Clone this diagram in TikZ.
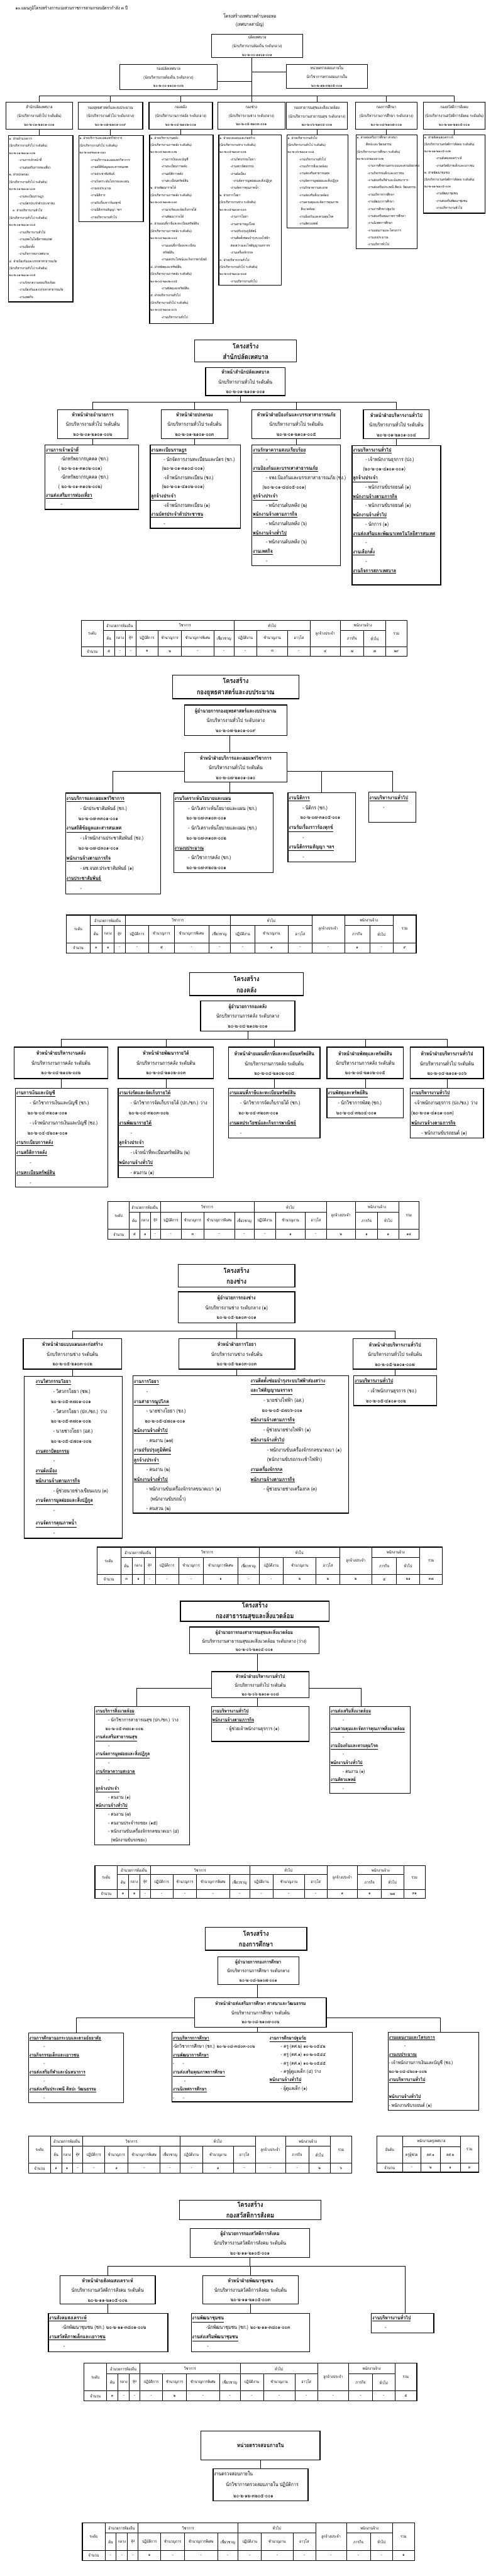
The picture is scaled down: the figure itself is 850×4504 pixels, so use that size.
\documentclass[tikz,border=0pt]{standalone}
\usepackage{fontspec}
\setmainfont{Loma}[Script=Thai,FakeStretch=0.85]
\newlength\myind
\newcommand\hd[1]{\underline{\textbf{#1}}}
\newcommand\ii{\hspace*{\myind}}
\newcommand\bx[7]{\pgfmathsetmacro\bw{#4-#2}\pgfmathsetmacro\bh{#5-#3}%
  \node[#6,minimum width=\bw pt,minimum height=\bh pt,anchor=north west] (#1) at (#2,#3) {#7};}
\newcommand\mylist[6]{\foreach \xitem [count=\xidx] in {#6} {\node[ltx,#2] (#1-\xidx) at ({#3},{#4+(\xidx-1)*#5}) {\xitem};}}
\tikzset{
 ltx/.style={anchor=west,inner sep=0pt},
 fs/.style={font=\fontsize{6}{7}\selectfont,text height=4pt,text depth=1.2pt},
 fd/.style={font=\fontsize{9}{10}\selectfont,text height=6pt,text depth=1.8pt},
 fe/.style={font=\fontsize{8.5}{10}\selectfont,text height=5.7pt,text depth=1.7pt},
 bbox/.style={draw,line width=1.4pt,inner sep=0pt},
 topbox/.style={bbox,align=center,font=\fontsize{7}{15}\selectfont},
 headbox/.style={bbox,align=center,font=\fontsize{9}{17}\selectfont},
 titlebox/.style={bbox,align=center,font=\fontsize{12}{19}\selectfont\bfseries},
 conn/.style={line width=0.7pt},
 tline/.style={line width=0.8pt},
 touter/.style={line width=1.3pt},
 tc/.style={inner sep=0pt,font=\fontsize{7}{8}\selectfont},
}
\newcommand\tbl[6]{%
 \pgfmathsetmacro\tbw{#4-#2}\pgfmathsetmacro\tbh{#5-#3}%
 \begin{scope}[shift={(#2,#3)},xscale=\tbw,yscale=\tbh]
  \draw[tline] (0,0.73) -- (1,0.73) (0.068,0.27) -- (0.702,0.27) (0.795,0.27) -- (0.934,0.27);
  \foreach \tcc in {0.068,0.168,0.469,0.702,0.795,0.934} {\draw[tline] (\tcc,0) -- (\tcc,1);}
  \foreach \tcc in {0.102,0.136,0.236,0.308,0.407,0.539,0.634,0.867} {\draw[tline] (\tcc,0.27) -- (\tcc,1);}
  \draw[touter] (0,0) rectangle (1,1);
  \node[tc] (#1-a) at (0.034,0.365) {ระดับ};
  \node[tc] (#1-b) at (0.118,0.135) {อำนวยการท้องถิ่น};
  \node[tc] (#1-c) at (0.3185,0.135) {วิชาการ};
  \node[tc] (#1-d) at (0.5855,0.135) {ทั่วไป};
  \node[tc] (#1-e) at (0.7485,0.365) {ลูกจ้างประจำ};
  \node[tc] (#1-f) at (0.8645,0.135) {พนักงานจ้าง};
  \node[tc] (#1-g) at (0.967,0.365) {รวม};
  \foreach \lab/\cx [count=\k] in {ต้น/0.085,กลาง/0.119,สูง/0.152,ปฏิบัติการ/0.202,ชำนาญการ/0.272,ชำนาญการพิเศษ/0.3575,เชี่ยวชาญ/0.438,ปฏิบัติงาน/0.504,ชำนาญงาน/0.5865,อาวุโส/0.668,ภารกิจ/0.831,ทั่วไป/0.9005} {\node[tc] (#1-h\k) at (\cx,0.5) {\lab};}
  \node[tc] (#1-r) at (0.034,0.865) {จำนวน};
  \foreach \tval [count=\k] in {#6} {\pgfmathsetmacro\tcx{{0.085,0.119,0.152,0.202,0.272,0.3575,0.438,0.504,0.5865,0.668,0.7485,0.831,0.9005,0.967}[\k-1]}\node[tc] (#1-v\k) at (\tcx,0.865) {\tval};}
 \end{scope}}
\begin{document}
\begin{tikzpicture}[x=1pt,y=-1pt]
\fill[white] (0,0) rectangle (850,4504);
\useasboundingbox (0,0) rectangle (850,4504);
%% ================= SECTION 1 =================
\node[ltx,font=\fontsize{8}{9}\selectfont] (ttl) at (27,15) {๑๐.แผนภูมิโครงสร้างการแบ่งส่วนราชการตามกรอบอัตรากำลัง ๓ ปี};
\node[font=\fontsize{8.5}{14}\selectfont,align=center,inner sep=0pt] (org) at (437,36) {โครงสร้างเทศบาลตำบลจอหอ\\(เทศบาลสามัญ)};
\bx{root}{369}{59}{529}{100}{topbox}{ปลัดเทศบาล\\(นักบริหารงานท้องถิ่น ระดับกลาง)\\๒๐-๒-๐๐-๑๑๐๑-๐๐๑}
\bx{dep}{209}{112}{379}{156}{topbox}{รองปลัดเทศบาล\\(นักบริหารงานท้องถิ่น ระดับกลาง)\\๒๐-๒-๐๐-๑๑๐๑-๐๐๒}
\bx{aud}{500}{112}{642}{154}{topbox}{หน่วยตรวจสอบภายใน\\นักวิชาการตรวจสอบภายใน\\๒๐-๒-๑๒-๓๒๐๕-๐๐๑}
\bx{c1}{10}{178}{126}{225}{topbox}{สำนักปลัดเทศบาล\\(นักบริหารงานทั่วไป ระดับต้น)\\๒๐-๒-๐๑-๒๑๐๑-๐๐๑}
\bx{c2}{136}{178}{249}{225}{topbox}{กองยุทธศาสตร์และงบประมาณ\\(นักบริหารงานทั่วไป ระดับกลาง)\\๒๐-๒-๐๗-๒๑๐๑-๐๐๙}
\bx{c3}{260}{178}{371}{225}{topbox}{กองคลัง\\(นักบริหารงานการคลัง ระดับกลาง)\\๒๐-๒-๐๔-๒๑๐๒-๐๐๑}
\bx{c4}{380}{178}{498}{225}{topbox}{กองช่าง\\(นักบริหารงานช่าง ระดับกลาง)\\๒๐-๒-๐๕-๒๑๐๓-๐๐๑}
\bx{c5}{500}{178}{607}{225}{topbox}{กองสาธารณสุขและสิ่งแวดล้อม\\(นักบริหารงานสาธารณสุข ระดับกลาง)\\๒๐-๒-๐๖-๒๑๐๔-๐๐๑}
\bx{c6}{621}{178}{729}{225}{topbox}{กองการศึกษา\\(นักบริหารงานการศึกษา ระดับกลาง)\\๒๐-๒-๐๘-๒๑๐๗-๐๐๑}
\bx{c7}{740}{178}{848}{225}{topbox}{กองสวัสดิการสังคม\\(นักบริหารงานสวัสดิการสังคม ระดับต้น)\\๒๐-๒-๑๑-๒๑๐๕-๐๐๑}
\bx{L1}{14}{236}{127}{527}{bbox}{}
\bx{L2}{137}{236}{250}{387}{bbox}{}
\bx{L3}{261}{235}{372}{565}{bbox}{}
\bx{L4}{382}{235}{491}{498}{bbox}{}
\bx{L5}{501}{235}{608}{398}{bbox}{}
\bx{L6}{622}{235}{729}{434}{bbox}{}
\bx{L7}{740}{235}{848}{372}{bbox}{}
\coordinate (tb) at (0,168);
\draw[conn] (c4.north |- root.south) -- (c4.north);
\draw[conn] (c1.north) -- (c1.north |- tb) -- (c7.north |- tb) -- (c7.north);
\foreach \n in {c2,c3,c5,c6} {\draw[conn] (\n.north) -- (\n.north |- tb);}
\draw[conn] ([yshift=-8pt]dep.east) -- ([yshift=-8pt]dep.east -| c4.north);
\draw[conn] ([yshift=8pt]aud.west) -- ([yshift=8pt]aud.west -| c4.north);
\foreach \n in {1,...,7} {\draw[conn] (c\n.south) -- (c\n.south |- L\n.north);}
\setlength\myind{17pt}
\mylist{L1t}{fs}{16}{243.3}{12.58}{๑. ฝ่ายอำนวยการ, (นักบริหารงานทั่วไป ระดับต้น), ๒๐-๒-๐๑-๒๑๐๑-๐๐๒, \ii-งานการเจ้าหน้าที่, \ii-งานส่งเสริมการท่องเที่ยว, ๒. ฝ่ายปกครอง, (นักบริหารงานทั่วไป ระดับต้น), ๒๐-๒-๐๑-๒๑๐๑-๐๐๓, \ii-งานทะเบียนราษฎร, \ii-งานบัตรประจำตัวประชาชน, \hspace*{6pt}๓. ฝ่ายบริหารงานทั่วไป, (นักบริหารงานทั่วไป ระดับต้น), ๒๐-๒-๐๑-๒๑๐๑-๐๐๔, \ii-งานบริหารงานทั่วไป, \ii-งานเทคโนโลยีสารสนเทศ, \ii-งานเลือกตั้ง, \ii-งานกิจการสภาเทศบาล, ๔. ฝ่ายป้องกันและบรรเทาสาธารณภัย, (นักบริหารงานทั่วไป ระดับต้น), ๒๐-๒-๐๑-๒๑๐๑-๐๐๕, \ii-งานรักษาความสงบเรียบร้อย, \ii-งานป้องกันและบรรเทาสาธารณภัย, \ii-งานเทศกิจ}
\setlength\myind{19pt}
\mylist{L2t}{fs}{139}{242.7}{12.5}{๑. ฝ่ายบริการและเผยแพร่วิชาการ, (นักบริหารงานทั่วไป ระดับต้น), ๒๐-๒-๐๗-๒๑๐๑-๐๑๐, \ii-งานบริการและเผยแพร่วิชาการ, \ii-งานสถิติข้อมูลและสารสนเทศ, \ii-งานประชาสัมพันธ์, \ii-งานวิเคราะห์นโยบายและแผน, \ii-งานงบประมาณ, \ii-งานนิติการ, \ii-งานรับเรื่องราวร้องทุกข์, \ii-งานนิติกรรมสัญญา ฯลฯ, \ii-งานบริหารงานทั่วไป}
\mylist{L3t}{fs}{263}{241.7}{12.54}{๑. ฝ่ายบริหารงานคลัง, (นักบริหารงานการคลัง ระดับต้น), ๒๐-๒-๐๔-๒๑๐๒-๐๐๒, \ii-งานการเงินและบัญชี, \ii-งานระเบียบการคลัง, \ii-งานสถิติการคลัง, \ii-งานทะเบียนทรัพย์สิน, ๒. ฝ่ายพัฒนารายได้, (นักบริหารงานการคลัง ระดับต้น), ๒๐-๒-๐๔-๒๑๐๒-๐๐๓, \ii-งานเร่งรัดและจัดเก็บรายได้, \ii-งานพัฒนารายได้, ๓. ฝ่ายแผนที่ภาษีและทะเบียนทรัพย์สิน, (นักบริหารงานการคลัง ระดับต้น), ๒๐-๒-๐๔-๒๑๐๒-๐๐๔, \ii-งานแผนที่ภาษีและทะเบียน, \ii\hspace*{3pt}ทรัพย์สิน, \ii-งานผลประโยชน์และกิจการพาณิชย์, ๔. ฝ่ายพัสดุและทรัพย์สิน, (นักบริหารงานการคลัง ระดับต้น), ๒๐-๒-๐๔-๒๑๐๒-๐๐๕, \ii-งานพัสดุและทรัพย์สิน, ๕. ฝ่ายบริหารงานทั่วไป, (นักบริหารงานทั่วไป ระดับต้น), ๒๐-๒-๐๔-๒๑๐๑-๐๐๖, \ii-งานบริหารงานทั่วไป}
\mylist{L4t}{fs}{384}{241.7}{12.55}{๑. ฝ่ายแบบแผนและก่อสร้าง, (นักบริหารงานช่าง ระดับต้น), ๒๐-๒-๐๕-๒๑๐๓-๐๐๒, \ii-งานวิศวกรรมโยธา, \ii-งานสถาปัตยกรรม, \ii-งานผังเมือง, \ii\hspace*{4pt}-งานจัดการมูลฝอยและสิ่งปฏิกูล, \ii-งานจัดการคุณภาพน้ำ, ๒. ฝ่ายการโยธา, (นักบริหารงานช่าง ระดับต้น), ๒๐-๒-๐๕-๒๑๐๓-๐๐๓, \ii-งานการโยธา, \ii-งานสาธารณูปโภค, \ii-งานปรับปรุงภูมิทัศน์, \ii-งานติดตั้งซ่อมบำรุงระบบไฟฟ้า, \ii ส่องสว่างและไฟสัญญาณจราจร, \ii-งานเครื่องจักรกล, ๓. ฝ่ายบริหารงานทั่วไป, (นักบริหารงานทั่วไป ระดับต้น), ๒๐-๒-๐๕-๒๑๐๑-๐๐๗, \ii-งานบริหารงานทั่วไป}
\setlength\myind{20pt}
\mylist{L5t}{fs}{503}{241.7}{12.5}{๑. ฝ่ายบริหารงานทั่วไป, (นักบริหารงานทั่วไป ระดับต้น), ๒๐-๒-๐๖-๒๑๐๑-๐๐๘, \ii-งานบริหารงานทั่วไป, \ii-งานบริการสิ่งแวดล้อม, \ii-งานส่งเสริมสาธารณสุข, \ii-งานจัดการมูลฝอยและสิ่งปฏิกูล, \ii-งานรักษาความสะอาด, \ii-งานส่งเสริมสิ่งแวดล้อม, \ii-งานควบคุมและจัดการคุณภาพ, \ii\hspace*{3pt}สิ่งแวดล้อม, \ii-งานป้องกันและควบคุมโรค, \ii-งานสัตวแพทย์}
\setlength\myind{19pt}
\mylist{L6t}{fs}{624}{241}{12.49}{๑. ฝ่ายส่งเสริมการศึกษา ศาสนา, \hspace*{16pt}ศิลปะและวัฒนธรรม, (นักบริหารงานการศึกษา ระดับต้น), ๒๐-๒-๐๘-๒๑๐๗-๐๐๒, \ii-งานการศึกษานอกระบบและตามอัธยาศัย, \ii-งานกิจกรรมเด็กและเยาวชน, \ii-งานส่งเสริมกีฬาและนันทนาการ, \ii-งานส่งเสริมประเพณี ศิลปะ วัฒนธรรม, \ii-งานบริหารการศึกษา, \ii-งานพัฒนาการศึกษา, \ii-งานการศึกษาปฐมวัย, \ii-งานส่งเสริมคุณภาพการศึกษา, \ii-งานนิเทศการศึกษา, \ii-งานแผนงานและโครงการ, \ii-งานงบประมาณ, \ii-งานบริหารทั่วไป}
\setlength\myind{20pt}
\mylist{L7t}{fs}{742}{240.7}{12.33}{๑. ฝ่ายสังคมสงเคราะห์, (นักบริหารงานสวัสดิการสังคม ระดับต้น), ๒๐-๒-๑๑-๒๑๐๕-๐๐๒, \ii-งานสังคมสงเคราะห์, \ii-งานสวัสดิภาพเด็กและเยาวชน, ๒. ฝ่ายพัฒนาชุมชน, (นักบริหารงานสวัสดิการสังคม ระดับต้น), ๒๐-๒-๑๑-๒๑๐๕-๐๐๓, \ii-งานพัฒนาชุมชน, \ii-งานส่งเสริมพัฒนาชุมชน, \ii-งานบริหารงานทั่วไป}
%% ================= SECTION 2 =================
\bx{t2}{340}{594}{518}{632}{titlebox}{โครงสร้าง\\สำนักปลัดเทศบาล}
\bx{h2}{359}{642}{498}{691}{headbox}{\textbf{หัวหน้าสำนักปลัดเทศบาล}\\นักบริหารงานทั่วไป ระดับต้น\\๒๐-๒-๐๑-๒๑๐๑-๐๐๑}
\bx{s21}{100}{716}{223}{766}{headbox}{\textbf{หัวหน้าฝ่ายอำนวยการ}\\นักบริหารงานทั่วไป ระดับต้น\\๒๐-๒-๐๑-๒๑๐๑-๐๐๒}
\bx{s22}{281}{716}{398}{766}{headbox}{\textbf{หัวหน้าฝ่ายปกครอง}\\นักบริหารงานทั่วไป ระดับต้น\\๒๐-๒-๐๑-๒๑๐๑-๐๐๓}
\bx{s23}{440}{716}{595}{766}{headbox}{\textbf{หัวหน้าฝ่ายป้องกันและบรรเทาสาธารณภัย}\\นักบริหารงานทั่วไป ระดับต้น\\๒๐-๒-๐๑-๒๑๐๑-๐๐๕}
\bx{s24}{635}{716}{750}{766}{headbox}{\textbf{หัวหน้าฝ่ายบริหารงานทั่วไป}\\นักบริหารงานทั่วไป ระดับต้น\\๒๐-๒-๐๑-๒๑๐๑-๐๐๔}
\bx{d21}{78}{777}{242}{890}{bbox}{}
\bx{d22}{262}{777}{420}{923}{bbox}{}
\bx{d23}{440}{777}{595}{988}{bbox}{}
\bx{d24}{615}{778}{770}{1022}{bbox}{}
\coordinate (b2) at (0,703);
\draw[conn] ([xshift=-8.5pt]h2.south) -- ([xshift=-8.5pt]h2.south |- b2);
\draw[conn] (s21.north) -- (s21.north |- b2) -- (s24.north |- b2) -- (s24.north);
\draw[conn] (s22.north) -- (s22.north |- b2);
\draw[conn] (s23.north) -- (s23.north |- b2);
\foreach \n in {1,2,3,4} {\draw[conn] (s2\n.south) -- (s2\n.south |- d2\n.north);}
\setlength\myind{26pt}
\mylist{d21t}{fd}{80}{788}{15.8}{\hd{งานการเจ้าหน้าที่}, \ii-นักทรัพยากรบุคคล (ชก.), \hspace*{22pt}( ๒๐-๒-๐๑-๓๑๐๒-๐๐๑), \ii-นักทรัพยากรบุคคล (ชก.), \hspace*{22pt}( ๒๐-๒-๐๑-๓๑๐๒-๐๐๒), \hd{งานส่งเสริมการท่องเที่ยว}, \ii-}
\setlength\myind{22pt}
\mylist{d22t}{fd}{264}{788}{16.04}{\hd{งานทะเบียนราษฎร}, \ii- นักจัดการงานทะเบียนและบัตร (ชก.), \hspace*{19pt}(๒๐-๒-๐๑-๓๑๐๔-๐๐๑), \ii-เจ้าพนักงานทะเบียน (ชง.), \hspace*{19pt}(๒๐-๒-๐๑-๔๑๐๒-๐๐๑), \hd{ลูกจ้างประจำ}, \ii-เจ้าพนักงานทะเบียน (๑), \hd{งานบัตรประจำตัวประชาชน}, \ii-}
\setlength\myind{23pt}
\mylist{d23t}{fd}{442}{788}{16.08}{\hd{งานรักษาความสงบเรียบร้อย}, \ii-, \hd{งานป้องกันและบรรเทาสาธารณภัย}, \ii- จพง.ป้องกันและบรรเทาสาธารณภัย (ชง.), \hspace*{17pt}(๒๐-๒-๐๑-๔๘๐๕-๐๐๑), \hd{ลูกจ้างประจำ}, \ii- พนักงานดับเพลิง (๒), \hd{พนักงานจ้างตามภารกิจ}, \ii- พนักงานดับเพลิง (๖), \hd{พนักงานจ้างทั่วไป}, \ii- พนักงานดับเพลิง (๖), \hd{งานเทศกิจ}, \ii-}
\setlength\myind{22pt}
\mylist{d24t}{fd}{617}{788}{16.2}{\hd{งานบริหารงานทั่วไป}, \ii- เจ้าพนักงานธุรการ (ปง.), \hspace*{18pt}(๒๐-๒-๐๑-๔๑๐๑-๐๐๑), \hd{ลูกจ้างประจำ}, \ii- พนักงานขับรถยนต์ (๑), \hd{พนักงานจ้างตามภารกิจ}, \ii- พนักงานขับรถยนต์ (๑), \hd{พนักงานจ้างทั่วไป}, \ii- นักการ (๑), \hd{งานส่งเสริมและพัฒนาเทคโนโลยีสารสนเทศ}, \ii-, \hd{งานเลือกตั้ง}, \ii-, \hd{งานกิจการสภาเทศบาล}}
\tbl{T2}{142}{1085}{712}{1147}{๕,-,-,๑,๒,-,-,-,๓,-,๔,๗,๗,๒๙}
%% ================= SECTION 3 =================
\bx{t3}{301}{1180}{522}{1221}{titlebox}{โครงสร้าง\\กองยุทธศาสตร์และงบประมาณ}
\bx{h3}{322}{1232}{501}{1285}{headbox}{\textbf{ผู้อำนวยการกองยุทธศาสตร์และงบประมาณ}\\นักบริหารงานทั่วไป ระดับกลาง\\๒๐-๒-๐๗-๒๑๐๑-๐๐๙}
\bx{s3}{322}{1315}{501}{1367}{headbox}{\textbf{หัวหน้าฝ่ายบริการและเผยแพร่วิชาการ}\\นักบริหารงานทั่วไป ระดับต้น\\๒๐-๒-๐๗-๒๑๐๑-๐๑๐}
\bx{d31}{114}{1386}{280}{1562}{bbox}{}
\bx{d32}{303}{1386}{477}{1525}{bbox}{}
\bx{d33}{503}{1385}{621}{1506}{bbox}{}
\bx{d34}{644}{1384}{727}{1437}{bbox}{}
\coordinate (b3) at (0,1349);
\draw[conn] ([xshift=-10.5pt]h3.south) -- ([xshift=-10.5pt]h3.south |- s3.north);
\draw[conn] ([xshift=-10.5pt]s3.south) -- ([xshift=-10.5pt]s3.south |- d32.north);
\draw[conn] (s3.west |- b3) -- (d31.north |- b3) -- (d31.north);
\draw[conn] (s3.east |- b3) -- (d34.north |- b3) -- (d34.north);
\draw[conn] (d33.north) -- (d33.north |- b3);
\setlength\myind{24pt}
\mylist{d31t}{fd}{116}{1397}{17.44}{\hd{งานบริการและเผยแพร่วิชาการ}, \ii- นักประชาสัมพันธ์ (ชก.), \hspace*{21pt}๒๐-๒-๐๗-๓๓๐๑-๐๐๑, \hd{งานสถิติข้อมูลและสารสนเทศ}, \ii- เจ้าพนักงานประชาสัมพันธ์ (ชง.), \hspace*{21pt}๒๐-๒-๐๗-๔๓๐๑-๐๐๑, \hd{พนักงานจ้างตามภารกิจ}, \ii- ผช.จนท.ประชาสัมพันธ์ (๑), \hd{งานประชาสัมพันธ์}, \ii-}
\mylist{d32t}{fd}{305}{1397}{17.3}{\hd{งานวิเคราะห์นโยบายและแผน}, \ii- นักวิเคราะห์นโยบายและแผน (ชก.), \hspace*{21pt}๒๐-๒-๐๗-๓๑๐๓-๐๐๑, \ii- นักวิเคราะห์นโยบายและแผน (ชก.), \hspace*{21pt}๒๐-๒-๐๗-๓๑๐๓-๐๐๒, \hd{งานงบประมาณ}, \ii- นักวิชาการคลัง (ชก.), \hspace*{21pt}๒๐-๒-๐๗-๓๒๐๒-๐๐๑}
\mylist{d33t}{fd}{505}{1396}{17.2}{\hd{งานนิติการ}, \ii- นิติกร (ชก.), \hspace*{20pt}๒๐-๒-๐๗-๓๑๐๕-๐๐๑, \hd{งานรับเรื่องราวร้องทุกข์}, \ii-, \hd{งานนิติกรรมสัญญา ฯลฯ}, \ii-}
\mylist{d34t}{fd}{646}{1396}{17}{\hd{งานบริหารงานทั่วไป}, \ii-}
\tbl{T3}{116}{1600}{728}{1666}{๑,๑,-,-,๕,-,-,-,๑,-,-,๑,-,๙}
%% ================= SECTION 4 =================
\bx{t4}{331}{1700}{530}{1740}{titlebox}{โครงสร้าง\\กองคลัง}
\bx{h4}{350}{1749}{515}{1802}{headbox}{\textbf{ผู้อำนวยการกองคลัง}\\นักบริหารงานการคลัง ระดับกลาง\\๒๐-๒-๐๔-๒๑๐๒-๐๐๑}
\bx{s41}{24}{1830}{188}{1885}{headbox}{\textbf{หัวหน้าฝ่ายบริหารงานคลัง}\\นักบริหารงานการคลัง ระดับต้น\\๒๐-๒-๐๔-๒๑๐๒-๐๐๒}
\bx{s42}{206}{1830}{373}{1885}{headbox}{\textbf{หัวหน้าฝ่ายพัฒนารายได้}\\นักบริหารงานการคลัง ระดับต้น\\๒๐-๒-๐๔-๒๑๐๒-๐๐๓}
\bx{s43}{399}{1830}{559}{1885}{headbox}{\textbf{หัวหน้าฝ่ายแผนที่ภาษีและทะเบียนทรัพย์สิน}\\นักบริหารงานการคลัง ระดับต้น\\๒๐-๒-๐๔-๒๑๐๒-๐๐๔}
\bx{s44}{571}{1830}{705}{1885}{headbox}{\textbf{หัวหน้าฝ่ายพัสดุและทรัพย์สิน}\\นักบริหารงานการคลัง ระดับต้น\\๒๐-๒-๐๔-๒๑๐๒-๐๐๕}
\bx{s45}{717}{1830}{845}{1885}{headbox}{\textbf{หัวหน้าฝ่ายบริหารงานทั่วไป}\\นักบริหารงานทั่วไป ระดับต้น\\๒๐-๒-๐๔-๒๑๐๑-๐๐๖}
\bx{d41}{26}{1902}{188}{2075}{bbox}{}
\bx{d42}{206}{1902}{373}{2058}{bbox}{}
\bx{d43}{399}{1902}{559}{1989}{bbox}{}
\bx{d44}{571}{1902}{705}{1954}{bbox}{}
\bx{d45}{717}{1902}{845}{1989}{bbox}{}
\coordinate (b4) at (0,1817);
\draw[conn] (h4.south) -- (h4.south |- b4);
\draw[conn] (s41.north) -- (s41.north |- b4) -- (s45.north |- b4) -- (s45.north);
\foreach \n in {2,3,4} {\draw[conn] (s4\n.north) -- (s4\n.north |- b4);}
\foreach \n in {1,...,5} {\draw[conn] (s4\n.south) -- (s4\n.south |- d4\n.north);}
\setlength\myind{24pt}
\mylist{d41t}{fd}{28}{1912}{17.4}{\hd{งานการเงินและบัญชี}, \ii- นักวิชาการเงินและบัญชี (ชก.), \hspace*{20pt}๒๐-๒-๐๔-๓๒๐๑-๐๐๑, \ii- เจ้าพนักงานการเงินและบัญชี (ชง.), \hspace*{20pt}๒๐-๒-๐๔-๔๒๐๑-๐๐๑, \hd{งานระเบียบการคลัง}, \hd{งานสถิติการคลัง}, \ii-, \hd{งานทะเบียนทรัพย์สิน}, \ii-}
\setlength\myind{20pt}
\mylist{d42t}{fd}{208}{1912}{17.4}{\hd{งานเร่งรัดและจัดเก็บรายได้}, \ii- นักวิชาการจัดเก็บรายได้ (ปก./ชก.) ว่าง, \hspace*{17pt}๒๐-๒-๐๔-๓๒๐๓-๐๐๒, \hd{งานพัฒนารายได้}, \ii-, \hd{ลูกจ้างประจำ}, \ii- เจ้าหน้าที่ทะเบียนทรัพย์สิน (๒), \hd{พนักงานจ้างทั่วไป}, \ii- คนงาน (๑)}
\setlength\myind{19pt}
\mylist{d43t}{fd}{401}{1912}{17.4}{\hd{งานแผนที่ภาษีและทะเบียนทรัพย์สิน}, \ii- นักวิชาการจัดเก็บรายได้ (ชก.), \hspace*{16pt}๒๐-๒-๐๔-๓๒๐๓-๐๐๑, \hd{งานผลประโยชน์และกิจการพาณิชย์}, \ii-}
\setlength\myind{18pt}
\mylist{d44t}{fd}{573}{1912}{17.4}{\hd{งานพัสดุและทรัพย์สิน}, \ii- นักวิชาการพัสดุ (ชก.), \hspace*{15pt}๒๐-๒-๐๔-๓๒๐๔-๐๐๑}
\mylist{d45t}{fd}{719}{1912}{17.4}{\hd{งานบริหารงานทั่วไป}, \hspace*{5pt}-เจ้าพนักงานธุรการ (ปง./ชง.) ว่าง, (๒๐-๒-๐๑-๔๑๐๑-๐๐๓), \hd{พนักงานจ้างตามภารกิจ}, \ii- พนักงานขับรถยนต์ (๑)}
\tbl{T4}{189}{2101}{733}{2167}{๕,๑,-,-,๓,-,-,-,๑,-,๒,๑,๑,๑๔}
%% ================= SECTION 5 =================
\bx{t5}{311}{2210}{515}{2250}{titlebox}{โครงสร้าง\\กองช่าง}
\bx{h5}{311}{2258}{515}{2312}{headbox}{\textbf{ผู้อำนวยการกองช่าง}\\นักบริหารงานช่าง ระดับกลาง (๑)\\๒๐-๒-๐๕-๒๑๐๓-๐๐๑}
\bx{s51}{40}{2340}{212}{2393}{headbox}{\textbf{หัวหน้าฝ่ายแบบแผนและก่อสร้าง}\\นักบริหารงานช่าง ระดับต้น\\๒๐-๒-๐๕-๒๑๐๓-๐๐๒}
\bx{s52}{312}{2340}{515}{2393}{headbox}{\textbf{หัวหน้าฝ่ายการโยธา}\\นักบริหารงานช่าง ระดับต้น\\๒๐-๒-๐๕-๒๑๐๓-๐๐๓}
\bx{s53}{617}{2340}{763}{2393}{headbox}{\textbf{หัวหน้าฝ่ายบริหารงานทั่วไป}\\นักบริหารงานทั่วไป ระดับต้น\\๒๐-๒-๐๕-๒๑๐๑-๐๐๗}
\bx{d51}{42}{2406}{213}{2689}{bbox}{}
\bx{d52}{232}{2405}{609}{2645}{bbox}{}
\bx{d53}{618}{2405}{763}{2457}{bbox}{}
\coordinate (b5) at (0,2327);
\draw[conn] (h5.south) -- (h5.south |- b5);
\draw[conn] (s51.north) -- (s51.north |- b5) -- (s53.north |- b5) -- (s53.north);
\draw[conn] (s52.north) -- (s52.north |- b5);
\foreach \n in {1,2,3} {\draw[conn] (s5\n.south) -- (s5\n.south |- d5\n.north);}
\setlength\myind{31pt}
\mylist{d51t}{fd}{62}{2417}{17.3}{\hd{งานวิศวกรรมโยธา}, \ii- วิศวกรโยธา (ชพ.), \hspace*{27pt}๒๐-๒-๐๕-๓๗๐๑-๐๐๑, \ii- วิศวกรโยธา (ปก./ชก.) ว่าง, \hspace*{27pt}๒๐-๒-๐๕-๓๗๐๑-๐๐๒, \ii- นายช่างโยธา (อส.), \hspace*{27pt}๒๐-๒-๐๕-๔๗๐๑-๐๐๒, \hd{งานสถาปัตยกรรม}, \ii-, \hd{งานผังเมือง}, \hd{พนักงานจ้างตามภารกิจ}, \ii- ผู้ช่วยนายช่างเขียนแบบ (๓), \hd{งานจัดการมูลฝอยและสิ่งปฏิกูล}, \ii-}
\node[ltx,fd] (d51t-15) at (62,2664) {\hd{งานจัดการคุณภาพน้ำ}};
\node[ltx,fd] (d51t-16) at (93,2682) {-};
\setlength\myind{22pt}
\mylist{d52a}{fd}{234}{2417}{17.05}{\hd{งานการโยธา}, \ii-, \hd{งานสาธารณูปโภค}, \ii- นายช่างโยธา (ชง.), \hspace*{19pt}๒๐-๒-๐๕-๔๗๐๑-๐๐๑, \hd{พนักงานจ้างทั่วไป}, \ii- คนงาน (๑๗), \hd{งานปรับปรุงภูมิทัศน์}, \hd{ลูกจ้างประจำ}, \ii- คนงาน (๒), \hd{พนักงานจ้างทั่วไป}, \ii- พนักงานขับเครื่องจักรกลขนาดเบา (๑), \hspace*{29pt}(พนักงานขับรถน้ำ), \ii- คนสวน (๒)}
\setlength\myind{23pt}
\mylist{d52b}{fd}{438}{2415}{17.27}{\hd{งานติดตั้งซ่อมบำรุงระบบไฟฟ้าส่องสว่าง}, \hd{และไฟสัญญาณจราจร}, \ii- นายช่างไฟฟ้า (อส.), \hspace*{20pt}๒๐-๒-๐๕-๔๗๐๖-๐๐๑, \hd{พนักงานจ้างตามภารกิจ}, \ii- ผู้ช่วยนายช่างไฟฟ้า (๑), \hd{พนักงานจ้างทั่วไป}, \hspace*{29pt}- พนักงานขับเครื่องจักรกลขนาดเบา (๑), \hspace*{29pt}(พนักงานขับรถกระเช้าไฟฟ้า), \hd{งานเครื่องจักรกล}, \hd{พนักงานจ้างตามภารกิจ}, \ii- ผู้ช่วยนายช่างเครื่องกล (๓)}
\mylist{d53t}{fd}{620}{2415}{17.5}{\hd{งานบริหารงานทั่วไป}, \ii- เจ้าพนักงานธุรการ (ชง.), \hspace*{20pt}๒๐-๒-๐๕-๔๑๐๑-๐๐๒}
\tbl{T5}{170}{2705}{774}{2770}{๓,๑,-,-,-,๑,-,-,๒,๒,๒,๕,๒๑,๓๗}
%% ================= SECTION 6 =================
\bx{t6}{315}{2799}{575}{2834}{titlebox}{โครงสร้าง\\กองสาธารณสุขและสิ่งแวดล้อม}
\bx{h6}{331}{2844}{557}{2891}{headbox,font=\fontsize{8.5}{15}\selectfont}{\textbf{ผู้อำนวยการกองสาธารณสุขและสิ่งแวดล้อม}\\นักบริหารงานสาธารณสุขและสิ่งแวดล้อม ระดับกลาง (ว่าง)\\๒๐-๒-๐๖-๒๑๐๔-๐๐๑}
\bx{s6}{369}{2922}{540}{2968}{headbox,font=\fontsize{8.5}{15.5}\selectfont}{\textbf{หัวหน้าฝ่ายบริหารงานทั่วไป}\\นักบริหารงานทั่วไป ระดับต้น\\๒๐-๒-๐๖-๒๑๐๑-๐๐๘}
\bx{d61}{165}{2983}{331}{3225}{bbox}{}
\bx{d62}{369}{2983}{540}{3044}{bbox}{}
\bx{d63}{576}{2983}{717}{3135}{bbox}{}
\coordinate (c6) at (450,0);
\coordinate (b6l) at (239,2952);
\coordinate (b6r) at (631,2952);
\draw[conn] (h6.south -| c6) -- (s6.north -| c6);
\draw[conn] (s6.south -| c6) -- (d62.north -| c6);
\draw[conn] (s6.west |- b6l) -- (b6l) -- (b6l |- d61.north);
\draw[conn] (s6.east |- b6r) -- (b6r) -- (b6r |- d63.north);
\setlength\myind{22pt}
\mylist{d61t}{fe}{167}{2993}{15}{\hd{งานบริการสิ่งแวดล้อม}, \ii- นักวิชาการสาธารณสุข (ปก./ชก.) ว่าง, \hspace*{17pt}๒๐-๒-๐๕-๓๗๐๑-๐๐๒, \hd{งานส่งเสริมสาธารณสุข}, \ii-, \hd{งานจัดการมูลฝอยและสิ่งปฏิกูล}, \ii-, \hd{งานรักษาความสะอาด}, \ii-, \hd{ลูกจ้างประจำ}, \ii- คนงาน (๑), \hd{พนักงานจ้างทั่วไป}, \ii- คนงาน (๗), \ii- คนงานประจำรถขยะ (๑๕), \ii- พนักงานขับเครื่องจักรกลขนาดเบา (๔), \hspace*{27pt}(พนักงานขับรถขยะ)}
\setlength\myind{25pt}
\mylist{d62t}{fe}{371}{2993}{15}{\hd{งานบริหารงานทั่วไป}, \hd{พนักงานจ้างตามภารกิจ}, \ii- ผู้ช่วยเจ้าพนักงานธุรการ (๑)}
\setlength\myind{21pt}
\mylist{d63t}{fe}{578}{2993}{15}{\hd{งานส่งเสริมสิ่งแวดล้อม}, \ii-, \hd{งานควบคุมและจัดการคุณภาพสิ่งแวดล้อม}, \ii-, \hd{งานป้องกันและควบคุมโรค}, \ii-, \hd{พนักงานจ้างทั่วไป}, \ii- คนงาน (๑), \hd{งานสัตวแพทย์}, \ii-}
\tbl{T6}{166}{3262}{744}{3319}{๑,๑,-,-,-,-,-,-,-,-,๑,๑,๒๗,๓๑}
%% ================= SECTION 7 =================
\bx{t7}{358}{3369}{536}{3409}{titlebox}{โครงสร้าง\\กองการศึกษา}
\bx{h7}{380}{3421}{522}{3469}{headbox,font=\fontsize{8.5}{16}\selectfont}{\textbf{ผู้อำนวยการกองการศึกษา}\\นักบริหารงานการศึกษา ระดับกลาง\\๒๐-๒-๐๘-๒๑๐๗-๐๐๑}
\bx{s7}{340}{3492}{570}{3544}{headbox,font=\fontsize{8.5}{16}\selectfont}{\textbf{หัวหน้าฝ่ายส่งเสริมการศึกษา ศาสนาและวัฒนธรรม}\\นักบริหารงานการศึกษา ระดับต้น\\๒๐-๒-๐๘-๒๑๐๗-๐๐๒}
\bx{d71}{49}{3554}{215}{3676}{bbox}{}
\bx{d72}{300}{3553}{616}{3674}{bbox}{}
\bx{d73}{678}{3553}{837}{3689}{bbox}{}
\coordinate (c7) at (450,0);
\coordinate (b7l) at (133,3528);
\coordinate (b7r) at (770,3528);
\draw[conn] (h7.south -| c7) -- (s7.north -| c7);
\draw[conn] (s7.south -| c7) -- (d72.north -| c7);
\draw[conn] (s7.west |- b7l) -- (b7l) -- (b7l |- d71.north);
\draw[conn] (s7.east |- b7r) -- (b7r) -- (b7r |- d73.north);
\setlength\myind{25pt}
\mylist{d71t}{fe}{51}{3564}{15}{\hd{งานการศึกษานอกระบบและตามอัธยาศัย}, \ii-, \hd{งานกิจกรรมเด็กและเยาวชน}, \ii-, \hd{งานส่งเสริมกีฬาและนันทนาการ}, \ii-, \hd{งานส่งเสริมประเพณี ศิลปะ วัฒนธรรม}, \ii-}
\setlength\myind{20pt}
\mylist{d72a}{fe}{302}{3564}{15}{\hd{งานบริหารการศึกษา}, -นักวิชาการศึกษา (ชก.) ๒๐-๒-๐๘-๓๘๐๓-๐๐๒, \hd{งานพัฒนาการศึกษา}, -\hspace*{15pt}-, \hd{งานส่งเสริมคุณภาพการศึกษา}, \ii-, \hd{งานนิเทศการศึกษา}, -\hspace*{15pt}-}
\mylist{d72b}{fe}{471}{3564}{14.7}{\hd{งานการศึกษาปฐมวัย}, \ii- ครู (คศ.๒) ๑๐-๒-๐๕๔๒, \ii- ครู (คศ.๑) ๑๐-๒-๐๕๔๔, \ii- ครู (คศ.๑) ๑๐-๒-๐๕๔๕, \ii- ครูผู้ดูแลเด็ก (๔) ว่าง, \hd{พนักงานจ้างทั่วไป}, \ii- ผู้ดูแลเด็ก (๑)}
\mylist{d73t}{fe}{680}{3563}{14.9}{\hd{งานแผนงานและโครงการ}, \hspace*{27pt}-, \hd{งานงบประมาณ}, - เจ้าพนักงานการเงินและบัญชี (ชง.), ๒๐-๒-๐๘-๔๒๐๑-๐๐๒, \hd{งานบริหารงานทั่วไป}, {}, \hd{พนักงานจ้างทั่วไป}, - พนักงานขับรถยนต์ (๑)}
\tbl{T7}{50}{3735}{615}{3800}{๑,๑,-,-,๑,-,-,-,๑,-,-,-,๒,๖}
% small table
\draw[tline] (659,3782) -- (837,3782) (704,3753) -- (805,3753);
\draw[tline] (704,3735) -- (704,3798) (805,3735) -- (805,3798) (736,3753) -- (736,3798) (770,3753) -- (770,3798);
\draw[touter] (659,3735) rectangle (837,3798);
\node[tc] (st-a) at (681.5,3758) {อันดับ};
\node[tc] (st-b) at (754.5,3744) {พนักงานครูเทศบาล};
\node[tc] (st-c) at (720,3767.5) {ครูผู้ช่วย};
\node[tc] (st-d) at (753,3767.5) {คศ.๑};
\node[tc] (st-e) at (787.5,3767.5) {คศ.๒};
\node[tc] (st-f) at (821,3758) {รวม};
\node[tc] (st-g) at (681.5,3790) {จำนวน};
\node[tc] (st-h) at (720,3790) {-};
\node[tc] (st-i) at (753,3790) {๒};
\node[tc] (st-j) at (787.5,3790) {๑};
\node[tc] (st-k) at (821,3790) {๓};
%% ================= SECTION 8 =================
\bx{t8}{313}{3846}{561}{3880}{titlebox}{โครงสร้าง\\กองสวัสดิการสังคม}
\bx{h8}{332}{3896}{541}{3946}{headbox}{\textbf{ผู้อำนวยการกองสวัสดิการสังคม}\\นักบริหารงานสวัสดิการสังคม ระดับต้น\\๒๐-๒-๑๑-๒๑๐๕-๐๐๑}
\bx{s81}{104}{3978}{271}{4028}{headbox}{\textbf{หัวหน้าฝ่ายสังคมสงเคราะห์}\\นักบริหารงานสวัสดิการสังคม ระดับต้น\\๒๐-๒-๑๑-๒๑๐๕-๐๐๒}
\bx{s82}{354}{3978}{521}{4028}{headbox}{\textbf{หัวหน้าฝ่ายพัฒนาชุมชน}\\นักบริหารงานสวัสดิการสังคม ระดับต้น\\๒๐-๒-๑๑-๒๑๐๕-๐๐๓}
\bx{d81}{84}{4044}{293}{4111}{bbox}{}
\bx{d82}{334}{4044}{541}{4111}{bbox}{}
\bx{d83}{649}{4044}{758}{4078}{bbox}{}
\coordinate (b8) at (0,3962);
\coordinate (b8r) at (709,3962);
\draw[conn] (h8.south) -- (h8.south |- b8);
\draw[conn] (s81.north) -- (s81.north |- b8) -- (b8r) -- (b8r |- d83.north);
\draw[conn] (s82.north) -- (s82.north |- b8);
\draw[conn] (s81.south) -- (s81.south |- d81.north);
\draw[conn] (s82.south) -- (s82.south |- d82.north);
\setlength\myind{22pt}
\mylist{d81t}{fd}{86}{4054}{16.4}{\hd{งานสังคมสงเคราะห์}, \ii-นักพัฒนาชุมชน (ชก.) ๒๐-๒-๑๑-๓๘๐๑-๐๐๒, \hd{งานสวัสดิภาพเด็กและเยาวชน}, \hspace*{25pt}-}
\setlength\myind{24pt}
\mylist{d82t}{fd}{336}{4054}{16.4}{\hd{งานพัฒนาชุมชน}, \ii-นักพัฒนาชุมชน (ชก.) ๒๐-๒-๑๑-๓๘๐๑-๐๐๓, \hd{งานส่งเสริมพัฒนาชุมชน}, \hspace*{26pt}-}
\mylist{d83t}{fd}{651}{4054}{16.6}{\hd{งานบริหารงานทั่วไป}, \hspace*{22pt}-}
\tbl{T8}{147}{4132}{729}{4198}{๓,-,-,-,๒,-,-,-,-,-,-,-,-,๕}
%% ================= SECTION 9 =================
\bx{s9}{351}{4250}{559}{4300}{bbox,font=\fontsize{10}{12}\selectfont\bfseries}{หน่วยตรวจสอบภายใน}
\bx{d9}{372}{4316}{538}{4372}{bbox}{}
\draw[conn] (s9.south) -- (d9.north);
\node[ltx,fd] (d9t-1) at (374,4326) {งานตรวจสอบภายใน};
\node[ltx,fd] (d9t-2) at (395,4345) {นักวิชาการตรวจสอบภายใน ปฏิบัติการ};
\node[ltx,fd] (d9t-3) at (408,4365) {๒๐-๒-๑๒-๓๒๐๕-๐๐๑};
\tbl{T9}{144}{4411}{725}{4477}{-,-,-,๑,-,-,-,-,-,-,-,-,-,๑}
\end{tikzpicture}
\end{document}
